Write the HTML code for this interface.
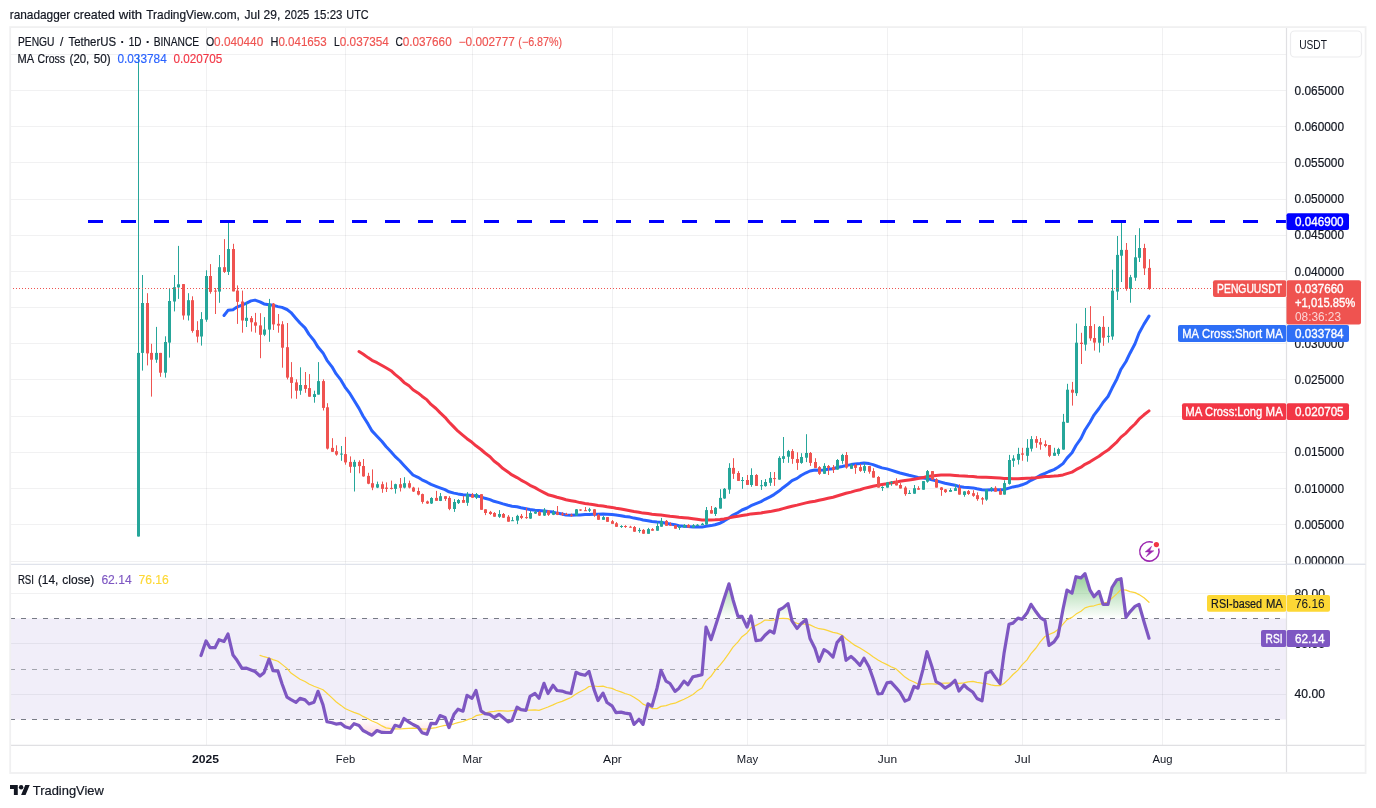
<!DOCTYPE html>
<html><head><meta charset="utf-8"><title>PENGUUSDT chart</title>
<style>html,body{margin:0;padding:0;background:#fff;overflow:hidden}svg{display:block;font-family:'Liberation Sans', sans-serif}</style></head>
<body><svg width="1376" height="808" viewBox="0 0 1376 808"><rect x="0" y="0" width="1376" height="808" fill="#ffffff"/><rect x="10.5" y="618.5" width="1276.0" height="101.0" fill="#f1eef9"/><line x1="206.5" y1="27.1" x2="206.5" y2="745.4" stroke="#2a2e39" stroke-opacity="0.065" stroke-width="1"/><line x1="345.5" y1="27.1" x2="345.5" y2="745.4" stroke="#2a2e39" stroke-opacity="0.065" stroke-width="1"/><line x1="472.5" y1="27.1" x2="472.5" y2="745.4" stroke="#2a2e39" stroke-opacity="0.065" stroke-width="1"/><line x1="612.5" y1="27.1" x2="612.5" y2="745.4" stroke="#2a2e39" stroke-opacity="0.065" stroke-width="1"/><line x1="747.5" y1="27.1" x2="747.5" y2="745.4" stroke="#2a2e39" stroke-opacity="0.065" stroke-width="1"/><line x1="887.5" y1="27.1" x2="887.5" y2="745.4" stroke="#2a2e39" stroke-opacity="0.065" stroke-width="1"/><line x1="1022.5" y1="27.1" x2="1022.5" y2="745.4" stroke="#2a2e39" stroke-opacity="0.065" stroke-width="1"/><line x1="1162.5" y1="27.1" x2="1162.5" y2="745.4" stroke="#2a2e39" stroke-opacity="0.065" stroke-width="1"/><line x1="10.5" y1="561.5" x2="1286.5" y2="561.5" stroke="#2a2e39" stroke-opacity="0.065" stroke-width="1"/><line x1="10.5" y1="524.5" x2="1286.5" y2="524.5" stroke="#2a2e39" stroke-opacity="0.065" stroke-width="1"/><line x1="10.5" y1="488.5" x2="1286.5" y2="488.5" stroke="#2a2e39" stroke-opacity="0.065" stroke-width="1"/><line x1="10.5" y1="452.5" x2="1286.5" y2="452.5" stroke="#2a2e39" stroke-opacity="0.065" stroke-width="1"/><line x1="10.5" y1="416.5" x2="1286.5" y2="416.5" stroke="#2a2e39" stroke-opacity="0.065" stroke-width="1"/><line x1="10.5" y1="379.5" x2="1286.5" y2="379.5" stroke="#2a2e39" stroke-opacity="0.065" stroke-width="1"/><line x1="10.5" y1="343.5" x2="1286.5" y2="343.5" stroke="#2a2e39" stroke-opacity="0.065" stroke-width="1"/><line x1="10.5" y1="307.5" x2="1286.5" y2="307.5" stroke="#2a2e39" stroke-opacity="0.065" stroke-width="1"/><line x1="10.5" y1="271.5" x2="1286.5" y2="271.5" stroke="#2a2e39" stroke-opacity="0.065" stroke-width="1"/><line x1="10.5" y1="235.5" x2="1286.5" y2="235.5" stroke="#2a2e39" stroke-opacity="0.065" stroke-width="1"/><line x1="10.5" y1="199.5" x2="1286.5" y2="199.5" stroke="#2a2e39" stroke-opacity="0.065" stroke-width="1"/><line x1="10.5" y1="162.5" x2="1286.5" y2="162.5" stroke="#2a2e39" stroke-opacity="0.065" stroke-width="1"/><line x1="10.5" y1="126.5" x2="1286.5" y2="126.5" stroke="#2a2e39" stroke-opacity="0.065" stroke-width="1"/><line x1="10.5" y1="90.5" x2="1286.5" y2="90.5" stroke="#2a2e39" stroke-opacity="0.065" stroke-width="1"/><line x1="10.5" y1="54.5" x2="1286.5" y2="54.5" stroke="#2a2e39" stroke-opacity="0.065" stroke-width="1"/><line x1="10.5" y1="593.5" x2="1286.5" y2="593.5" stroke="#2a2e39" stroke-opacity="0.065" stroke-width="1"/><line x1="10.5" y1="643.5" x2="1286.5" y2="643.5" stroke="#2a2e39" stroke-opacity="0.065" stroke-width="1"/><line x1="10.5" y1="694.5" x2="1286.5" y2="694.5" stroke="#2a2e39" stroke-opacity="0.065" stroke-width="1"/><line x1="10" y1="618.5" x2="1286.5" y2="618.5" stroke="#787b86" stroke-width="1" stroke-dasharray="5 6"/><line x1="10" y1="669.5" x2="1286.5" y2="669.5" stroke="#a3a5ae" stroke-width="1" stroke-dasharray="5 6"/><line x1="10" y1="719.5" x2="1286.5" y2="719.5" stroke="#787b86" stroke-width="1" stroke-dasharray="5 6"/><polyline points="224.0,315.5 228.0,310.3 233.0,309.7 237.0,307.1 242.0,305.2 246.0,303.4 251.0,300.9 255.0,300.1 260.0,301.8 264.0,303.9 269.0,304.8 273.0,305.3 278.0,306.6 282.0,307.4 287.0,309.5 291.0,312.6 296.0,318.4 300.0,323.0 305.0,327.9 309.0,334.4 314.0,340.5 318.0,347.1 323.0,352.9 327.0,360.3 332.0,366.8 336.0,373.7 341.0,380.2 345.0,387.1 350.0,393.7 354.0,400.3 359.0,408.4 363.0,416.0 368.0,423.9 372.0,430.9 377.0,436.2 382.0,441.5 386.0,446.5 391.0,451.7 395.0,456.4 400.0,461.0 404.0,465.4 409.0,470.8 413.0,475.0 418.0,477.3 422.0,479.8 427.0,482.2 431.0,484.4 436.0,486.3 440.0,487.8 445.0,489.7 449.0,491.8 454.0,493.1 458.0,493.9 463.0,494.7 467.0,495.1 472.0,495.6 476.0,495.8 481.0,496.9 485.0,498.3 490.0,499.6 494.0,501.3 499.0,502.6 503.0,503.9 508.0,505.3 512.0,506.2 517.0,506.8 521.0,507.8 526.0,508.7 530.0,509.5 535.0,510.2 539.0,510.5 544.0,510.9 548.0,511.6 553.0,512.1 557.0,513.1 562.0,514.0 566.0,515.0 571.0,515.3 576.0,515.1 580.0,514.9 585.0,514.6 589.0,514.4 594.0,514.3 598.0,514.2 603.0,514.0 607.0,514.3 612.0,514.6 616.0,515.0 621.0,515.7 625.0,516.5 630.0,517.1 634.0,518.1 639.0,518.9 643.0,520.0 648.0,520.7 652.0,521.5 657.0,522.1 661.0,522.3 666.0,523.2 670.0,523.9 675.0,524.8 679.0,525.7 684.0,526.2 688.0,526.5 693.0,526.9 697.0,527.1 702.0,527.1 706.0,526.3 711.0,525.6 715.0,524.7 720.0,523.2 724.0,521.1 729.0,518.0 733.0,515.0 738.0,512.6 742.0,510.0 747.0,508.0 751.0,505.7 756.0,503.7 761.0,501.6 765.0,499.3 770.0,496.9 774.0,494.6 779.0,491.1 783.0,487.7 788.0,484.0 792.0,480.7 797.0,478.4 801.0,475.5 806.0,472.8 810.0,471.0 815.0,470.0 819.0,470.3 824.0,469.9 828.0,469.3 833.0,468.7 837.0,467.5 842.0,466.5 846.0,465.6 851.0,464.6 855.0,463.9 860.0,463.5 864.0,462.9 869.0,463.6 873.0,464.6 878.0,466.5 882.0,467.9 887.0,468.9 891.0,470.1 896.0,471.7 900.0,473.0 905.0,474.3 909.0,475.3 914.0,476.4 918.0,477.5 923.0,478.0 927.0,478.6 932.0,479.8 936.0,480.8 941.0,482.1 945.0,483.3 950.0,484.2 955.0,485.3 959.0,486.5 964.0,487.2 968.0,487.5 973.0,487.9 977.0,488.8 982.0,489.7 986.0,489.9 991.0,489.8 995.0,489.7 1000.0,489.8 1004.0,489.5 1009.0,488.1 1013.0,486.9 1018.0,486.1 1022.0,484.8 1027.0,482.8 1031.0,480.3 1036.0,477.8 1040.0,475.5 1045.0,473.4 1049.0,471.5 1054.0,469.6 1058.0,467.3 1063.0,463.6 1067.0,458.1 1072.0,452.8 1076.0,445.5 1081.0,438.3 1085.0,430.0 1090.0,422.2 1094.0,415.1 1099.0,408.5 1103.0,402.5 1108.0,396.5 1112.0,388.3 1117.0,378.7 1121.0,369.2 1126.0,361.5 1130.0,353.2 1135.0,343.7 1139.0,333.3 1144.0,324.1 1149.0,316.1" fill="none" stroke="#2962ff" stroke-width="3.0" stroke-linejoin="round" stroke-linecap="round"/><polyline points="359.0,351.5 363.0,354.0 368.0,357.6 372.0,360.3 377.0,362.7 382.0,365.5 386.0,367.8 391.0,370.7 395.0,374.4 400.0,378.4 404.0,382.4 409.0,385.8 413.0,389.7 418.0,392.9 422.0,396.2 427.0,399.9 431.0,404.4 436.0,408.5 440.0,412.6 445.0,417.3 449.0,422.0 454.0,427.1 458.0,431.2 463.0,435.3 467.0,438.7 472.0,442.3 476.0,445.8 481.0,449.5 485.0,453.0 490.0,456.7 494.0,461.0 499.0,464.8 503.0,468.6 508.0,472.1 512.0,474.9 517.0,477.6 521.0,480.1 526.0,482.8 530.0,485.3 535.0,487.6 539.0,490.0 544.0,492.6 548.0,494.7 553.0,496.0 557.0,497.3 562.0,498.5 566.0,499.7 571.0,500.7 576.0,501.6 580.0,502.6 585.0,503.5 589.0,504.1 594.0,504.7 598.0,505.4 603.0,506.0 607.0,506.7 612.0,507.4 616.0,508.2 621.0,509.0 625.0,509.8 630.0,510.7 634.0,511.5 639.0,512.3 643.0,513.1 648.0,513.6 652.0,514.2 657.0,514.7 661.0,515.1 666.0,515.7 670.0,516.3 675.0,516.7 679.0,517.2 684.0,517.7 688.0,518.1 693.0,518.8 697.0,519.3 702.0,519.9 706.0,519.9 711.0,519.9 715.0,519.8 720.0,519.4 724.0,518.9 729.0,517.9 733.0,517.0 738.0,516.2 742.0,515.5 747.0,514.8 751.0,513.9 756.0,513.4 761.0,512.9 765.0,512.2 770.0,511.6 774.0,510.8 779.0,509.8 783.0,508.6 788.0,507.3 792.0,506.2 797.0,505.1 801.0,504.1 806.0,502.9 810.0,502.0 815.0,501.2 819.0,500.3 824.0,499.2 828.0,498.3 833.0,497.2 837.0,496.0 842.0,494.5 846.0,493.3 851.0,492.1 855.0,490.9 860.0,489.7 864.0,488.4 869.0,487.2 873.0,486.2 878.0,485.3 882.0,484.5 887.0,483.7 891.0,482.9 896.0,482.1 900.0,481.3 905.0,480.6 909.0,480.0 914.0,479.2 918.0,478.5 923.0,477.6 927.0,476.5 932.0,475.9 936.0,475.4 941.0,475.1 945.0,474.9 950.0,475.0 955.0,475.4 959.0,475.8 964.0,476.0 968.0,476.3 973.0,476.5 977.0,477.0 982.0,477.3 986.0,477.3 991.0,477.5 995.0,477.7 1000.0,478.1 1004.0,478.6 1009.0,478.6 1013.0,478.8 1018.0,478.7 1022.0,478.5 1027.0,478.3 1031.0,478.1 1036.0,477.7 1040.0,477.2 1045.0,476.6 1049.0,476.4 1054.0,476.1 1058.0,475.7 1063.0,474.9 1067.0,473.6 1072.0,472.1 1076.0,469.7 1081.0,467.2 1085.0,464.3 1090.0,461.8 1094.0,459.2 1099.0,456.2 1103.0,453.2 1108.0,450.1 1112.0,446.3 1117.0,441.8 1121.0,437.1 1126.0,433.1 1130.0,428.7 1135.0,424.0 1139.0,419.2 1144.0,414.8 1149.0,410.9" fill="none" stroke="#f23645" stroke-width="3.0" stroke-linejoin="round" stroke-linecap="round"/><g><rect x="138.0" y="54.5" width="1" height="482.0" fill="#26a69a"/><rect x="137.0" y="352.9" width="3" height="183.6" fill="#26a69a"/><rect x="142.0" y="275.0" width="1" height="95.6" fill="#26a69a"/><rect x="141.0" y="303.0" width="3" height="49.9" fill="#26a69a"/><rect x="147.0" y="293.2" width="1" height="72.2" fill="#ef5350"/><rect x="146.0" y="303.0" width="3" height="50.4" fill="#ef5350"/><rect x="151.0" y="343.8" width="1" height="52.8" fill="#ef5350"/><rect x="150.0" y="352.9" width="3" height="6.8" fill="#ef5350"/><rect x="156.0" y="326.9" width="1" height="35.9" fill="#26a69a"/><rect x="155.0" y="352.9" width="3" height="6.8" fill="#26a69a"/><rect x="160.0" y="352.9" width="1" height="23.9" fill="#ef5350"/><rect x="159.0" y="352.9" width="3" height="19.8" fill="#ef5350"/><rect x="165.0" y="336.3" width="1" height="41.3" fill="#26a69a"/><rect x="164.0" y="342.0" width="3" height="30.7" fill="#26a69a"/><rect x="169.0" y="288.0" width="1" height="69.6" fill="#26a69a"/><rect x="168.0" y="301.0" width="3" height="41.6" fill="#26a69a"/><rect x="174.0" y="275.0" width="1" height="36.4" fill="#26a69a"/><rect x="173.0" y="287.2" width="3" height="14.3" fill="#26a69a"/><rect x="178.0" y="245.9" width="1" height="53.0" fill="#26a69a"/><rect x="177.0" y="284.3" width="3" height="3.1" fill="#26a69a"/><rect x="183.0" y="284.1" width="1" height="35.6" fill="#ef5350"/><rect x="182.0" y="284.1" width="3" height="31.4" fill="#ef5350"/><rect x="188.0" y="293.2" width="1" height="27.3" fill="#26a69a"/><rect x="187.0" y="300.2" width="3" height="15.3" fill="#26a69a"/><rect x="192.0" y="296.3" width="1" height="36.4" fill="#ef5350"/><rect x="191.0" y="300.2" width="3" height="30.7" fill="#ef5350"/><rect x="197.0" y="321.2" width="1" height="21.3" fill="#ef5350"/><rect x="196.0" y="330.1" width="3" height="6.5" fill="#ef5350"/><rect x="201.0" y="312.1" width="1" height="33.5" fill="#26a69a"/><rect x="200.0" y="319.1" width="3" height="17.4" fill="#26a69a"/><rect x="206.0" y="270.3" width="1" height="51.5" fill="#26a69a"/><rect x="205.0" y="276.0" width="3" height="43.7" fill="#26a69a"/><rect x="210.0" y="264.1" width="1" height="29.6" fill="#ef5350"/><rect x="209.0" y="276.0" width="3" height="15.9" fill="#ef5350"/><rect x="215.0" y="288.0" width="1" height="26.0" fill="#ef5350"/><rect x="214.0" y="290.6" width="3" height="1.0" fill="#ef5350"/><rect x="219.0" y="255.0" width="1" height="47.8" fill="#26a69a"/><rect x="218.0" y="267.2" width="3" height="24.4" fill="#26a69a"/><rect x="224.0" y="239.1" width="1" height="33.8" fill="#ef5350"/><rect x="223.0" y="267.2" width="3" height="4.7" fill="#ef5350"/><rect x="228.0" y="221.7" width="1" height="53.3" fill="#26a69a"/><rect x="227.0" y="249.0" width="3" height="22.9" fill="#26a69a"/><rect x="233.0" y="243.8" width="1" height="47.6" fill="#ef5350"/><rect x="232.0" y="249.0" width="3" height="42.4" fill="#ef5350"/><rect x="237.0" y="285.4" width="1" height="38.5" fill="#ef5350"/><rect x="236.0" y="290.6" width="3" height="11.2" fill="#ef5350"/><rect x="242.0" y="290.6" width="1" height="42.1" fill="#ef5350"/><rect x="241.0" y="301.5" width="3" height="19.0" fill="#ef5350"/><rect x="246.0" y="302.3" width="1" height="24.7" fill="#26a69a"/><rect x="245.0" y="317.8" width="3" height="3.1" fill="#26a69a"/><rect x="251.0" y="316.0" width="1" height="15.6" fill="#ef5350"/><rect x="250.0" y="318.1" width="3" height="4.2" fill="#ef5350"/><rect x="255.0" y="312.9" width="1" height="19.8" fill="#ef5350"/><rect x="254.0" y="322.3" width="3" height="3.4" fill="#ef5350"/><rect x="260.0" y="313.2" width="1" height="45.0" fill="#ef5350"/><rect x="259.0" y="325.4" width="3" height="9.4" fill="#ef5350"/><rect x="264.0" y="317.1" width="1" height="19.0" fill="#26a69a"/><rect x="263.0" y="329.5" width="3" height="5.2" fill="#26a69a"/><rect x="269.0" y="298.9" width="1" height="42.9" fill="#26a69a"/><rect x="268.0" y="303.6" width="3" height="26.0" fill="#26a69a"/><rect x="273.0" y="303.0" width="1" height="27.0" fill="#ef5350"/><rect x="272.0" y="303.6" width="3" height="20.8" fill="#ef5350"/><rect x="278.0" y="314.0" width="1" height="18.7" fill="#ef5350"/><rect x="277.0" y="323.8" width="3" height="1.8" fill="#ef5350"/><rect x="282.0" y="321.2" width="1" height="46.5" fill="#ef5350"/><rect x="281.0" y="324.3" width="3" height="23.4" fill="#ef5350"/><rect x="287.0" y="323.0" width="1" height="56.4" fill="#ef5350"/><rect x="286.0" y="347.2" width="3" height="30.4" fill="#ef5350"/><rect x="291.0" y="362.1" width="1" height="36.4" fill="#ef5350"/><rect x="290.0" y="377.2" width="3" height="5.7" fill="#ef5350"/><rect x="296.0" y="379.3" width="1" height="19.5" fill="#ef5350"/><rect x="295.0" y="382.4" width="3" height="8.3" fill="#ef5350"/><rect x="300.0" y="367.3" width="1" height="27.5" fill="#26a69a"/><rect x="299.0" y="385.0" width="3" height="5.7" fill="#26a69a"/><rect x="305.0" y="372.0" width="1" height="20.8" fill="#ef5350"/><rect x="304.0" y="385.0" width="3" height="3.9" fill="#ef5350"/><rect x="309.0" y="374.1" width="1" height="22.6" fill="#ef5350"/><rect x="308.0" y="388.1" width="3" height="8.6" fill="#ef5350"/><rect x="314.0" y="390.7" width="1" height="12.0" fill="#26a69a"/><rect x="313.0" y="394.1" width="3" height="2.9" fill="#26a69a"/><rect x="318.0" y="362.1" width="1" height="32.5" fill="#26a69a"/><rect x="317.0" y="381.1" width="3" height="13.5" fill="#26a69a"/><rect x="323.0" y="379.3" width="1" height="31.2" fill="#ef5350"/><rect x="322.0" y="381.1" width="3" height="26.8" fill="#ef5350"/><rect x="327.0" y="403.2" width="1" height="46.3" fill="#ef5350"/><rect x="326.0" y="407.3" width="3" height="41.3" fill="#ef5350"/><rect x="332.0" y="438.2" width="1" height="13.8" fill="#ef5350"/><rect x="331.0" y="447.9" width="3" height="3.9" fill="#ef5350"/><rect x="336.0" y="445.3" width="1" height="10.4" fill="#ef5350"/><rect x="335.0" y="451.2" width="3" height="3.4" fill="#ef5350"/><rect x="341.0" y="446.0" width="1" height="14.8" fill="#26a69a"/><rect x="340.0" y="453.6" width="3" height="1.0" fill="#26a69a"/><rect x="345.0" y="436.9" width="1" height="27.8" fill="#ef5350"/><rect x="344.0" y="454.1" width="3" height="8.3" fill="#ef5350"/><rect x="350.0" y="456.4" width="1" height="16.4" fill="#ef5350"/><rect x="349.0" y="461.9" width="3" height="4.9" fill="#ef5350"/><rect x="354.0" y="459.8" width="1" height="31.7" fill="#26a69a"/><rect x="353.0" y="461.9" width="3" height="4.9" fill="#26a69a"/><rect x="359.0" y="460.3" width="1" height="13.0" fill="#ef5350"/><rect x="358.0" y="461.9" width="3" height="4.2" fill="#ef5350"/><rect x="363.0" y="459.0" width="1" height="17.7" fill="#ef5350"/><rect x="362.0" y="466.0" width="3" height="10.4" fill="#ef5350"/><rect x="368.0" y="472.8" width="1" height="11.4" fill="#ef5350"/><rect x="367.0" y="475.9" width="3" height="7.8" fill="#ef5350"/><rect x="372.0" y="469.4" width="1" height="20.8" fill="#ef5350"/><rect x="371.0" y="483.2" width="3" height="4.4" fill="#ef5350"/><rect x="377.0" y="481.6" width="1" height="6.5" fill="#26a69a"/><rect x="376.0" y="484.2" width="3" height="3.4" fill="#26a69a"/><rect x="382.0" y="481.6" width="1" height="11.2" fill="#ef5350"/><rect x="381.0" y="484.2" width="3" height="4.7" fill="#ef5350"/><rect x="386.0" y="482.4" width="1" height="9.6" fill="#ef5350"/><rect x="385.0" y="487.6" width="3" height="1.3" fill="#ef5350"/><rect x="391.0" y="480.6" width="1" height="8.8" fill="#ef5350"/><rect x="390.0" y="487.9" width="3" height="1.0" fill="#ef5350"/><rect x="395.0" y="483.7" width="1" height="9.9" fill="#26a69a"/><rect x="394.0" y="484.2" width="3" height="4.7" fill="#26a69a"/><rect x="400.0" y="478.0" width="1" height="13.5" fill="#ef5350"/><rect x="399.0" y="484.2" width="3" height="3.6" fill="#ef5350"/><rect x="404.0" y="477.2" width="1" height="11.2" fill="#26a69a"/><rect x="403.0" y="483.2" width="3" height="4.4" fill="#26a69a"/><rect x="409.0" y="480.6" width="1" height="7.8" fill="#ef5350"/><rect x="408.0" y="483.2" width="3" height="4.4" fill="#ef5350"/><rect x="413.0" y="486.8" width="1" height="5.2" fill="#ef5350"/><rect x="412.0" y="487.6" width="3" height="3.9" fill="#ef5350"/><rect x="418.0" y="487.6" width="1" height="7.8" fill="#ef5350"/><rect x="417.0" y="491.0" width="3" height="3.6" fill="#ef5350"/><rect x="422.0" y="493.6" width="1" height="10.1" fill="#ef5350"/><rect x="421.0" y="494.1" width="3" height="7.8" fill="#ef5350"/><rect x="427.0" y="500.6" width="1" height="3.4" fill="#ef5350"/><rect x="426.0" y="501.4" width="3" height="2.1" fill="#ef5350"/><rect x="431.0" y="497.2" width="1" height="6.8" fill="#26a69a"/><rect x="430.0" y="498.0" width="3" height="5.5" fill="#26a69a"/><rect x="436.0" y="490.9" width="1" height="9.9" fill="#ef5350"/><rect x="435.0" y="497.9" width="3" height="2.9" fill="#ef5350"/><rect x="440.0" y="493.0" width="1" height="8.1" fill="#26a69a"/><rect x="439.0" y="496.2" width="3" height="4.7" fill="#26a69a"/><rect x="445.0" y="496.2" width="1" height="4.7" fill="#ef5350"/><rect x="444.0" y="496.2" width="3" height="2.7" fill="#ef5350"/><rect x="449.0" y="496.2" width="1" height="14.0" fill="#ef5350"/><rect x="448.0" y="497.9" width="3" height="11.0" fill="#ef5350"/><rect x="454.0" y="499.1" width="1" height="12.8" fill="#26a69a"/><rect x="453.0" y="502.0" width="3" height="7.0" fill="#26a69a"/><rect x="458.0" y="499.1" width="1" height="4.9" fill="#26a69a"/><rect x="457.0" y="500.0" width="3" height="3.1" fill="#26a69a"/><rect x="463.0" y="495.8" width="1" height="7.0" fill="#ef5350"/><rect x="462.0" y="500.0" width="3" height="2.8" fill="#ef5350"/><rect x="467.0" y="492.1" width="1" height="13.7" fill="#26a69a"/><rect x="466.0" y="494.2" width="3" height="8.6" fill="#26a69a"/><rect x="472.0" y="493.0" width="1" height="4.9" fill="#ef5350"/><rect x="471.0" y="494.7" width="3" height="3.0" fill="#ef5350"/><rect x="476.0" y="493.0" width="1" height="6.0" fill="#26a69a"/><rect x="475.0" y="494.2" width="3" height="3.5" fill="#26a69a"/><rect x="481.0" y="494.2" width="1" height="15.6" fill="#ef5350"/><rect x="480.0" y="494.2" width="3" height="15.6" fill="#ef5350"/><rect x="485.0" y="509.3" width="1" height="5.8" fill="#ef5350"/><rect x="484.0" y="509.3" width="3" height="3.7" fill="#ef5350"/><rect x="490.0" y="510.9" width="1" height="4.0" fill="#ef5350"/><rect x="489.0" y="511.9" width="3" height="2.1" fill="#ef5350"/><rect x="494.0" y="512.1" width="1" height="4.7" fill="#ef5350"/><rect x="493.0" y="513.0" width="3" height="3.7" fill="#ef5350"/><rect x="499.0" y="510.1" width="1" height="7.8" fill="#26a69a"/><rect x="498.0" y="514.0" width="3" height="2.8" fill="#26a69a"/><rect x="503.0" y="513.0" width="1" height="4.9" fill="#ef5350"/><rect x="502.0" y="514.0" width="3" height="3.7" fill="#ef5350"/><rect x="508.0" y="515.1" width="1" height="6.6" fill="#ef5350"/><rect x="507.0" y="516.7" width="3" height="5.0" fill="#ef5350"/><rect x="512.0" y="517.1" width="1" height="3.8" fill="#26a69a"/><rect x="511.0" y="520.2" width="3" height="1.0" fill="#26a69a"/><rect x="517.0" y="514.8" width="1" height="9.3" fill="#26a69a"/><rect x="516.0" y="515.9" width="3" height="4.7" fill="#26a69a"/><rect x="521.0" y="514.0" width="1" height="5.1" fill="#ef5350"/><rect x="520.0" y="515.9" width="3" height="2.0" fill="#ef5350"/><rect x="526.0" y="507.8" width="1" height="11.0" fill="#ef5350"/><rect x="525.0" y="517.1" width="3" height="1.0" fill="#ef5350"/><rect x="530.0" y="510.9" width="1" height="7.9" fill="#26a69a"/><rect x="529.0" y="513.0" width="3" height="5.6" fill="#26a69a"/><rect x="535.0" y="510.1" width="1" height="3.8" fill="#26a69a"/><rect x="534.0" y="511.9" width="3" height="1.7" fill="#26a69a"/><rect x="539.0" y="510.9" width="1" height="5.0" fill="#ef5350"/><rect x="538.0" y="512.1" width="3" height="3.5" fill="#ef5350"/><rect x="544.0" y="508.1" width="1" height="7.8" fill="#26a69a"/><rect x="543.0" y="509.8" width="3" height="5.8" fill="#26a69a"/><rect x="548.0" y="510.1" width="1" height="5.8" fill="#ef5350"/><rect x="547.0" y="510.5" width="3" height="4.3" fill="#ef5350"/><rect x="553.0" y="510.1" width="1" height="5.0" fill="#26a69a"/><rect x="552.0" y="511.9" width="3" height="2.9" fill="#26a69a"/><rect x="557.0" y="506.0" width="1" height="9.1" fill="#ef5350"/><rect x="556.0" y="512.1" width="3" height="2.7" fill="#ef5350"/><rect x="562.0" y="512.1" width="1" height="3.8" fill="#ef5350"/><rect x="561.0" y="513.6" width="3" height="1.2" fill="#ef5350"/><rect x="566.0" y="512.8" width="1" height="2.3" fill="#ef5350"/><rect x="565.0" y="514.0" width="3" height="1.0" fill="#ef5350"/><rect x="571.0" y="513.6" width="1" height="3.1" fill="#ef5350"/><rect x="570.0" y="514.8" width="3" height="1.0" fill="#ef5350"/><rect x="576.0" y="509.0" width="1" height="7.0" fill="#26a69a"/><rect x="575.0" y="509.3" width="3" height="6.0" fill="#26a69a"/><rect x="580.0" y="509.3" width="1" height="1.6" fill="#ef5350"/><rect x="579.0" y="509.5" width="3" height="1.0" fill="#ef5350"/><rect x="585.0" y="507.0" width="1" height="4.0" fill="#ef5350"/><rect x="584.0" y="510.2" width="3" height="1.0" fill="#ef5350"/><rect x="589.0" y="507.8" width="1" height="4.3" fill="#26a69a"/><rect x="588.0" y="509.3" width="3" height="1.4" fill="#26a69a"/><rect x="594.0" y="509.1" width="1" height="7.7" fill="#ef5350"/><rect x="593.0" y="509.3" width="3" height="6.0" fill="#ef5350"/><rect x="598.0" y="514.0" width="1" height="5.8" fill="#ef5350"/><rect x="597.0" y="515.1" width="3" height="4.7" fill="#ef5350"/><rect x="603.0" y="515.9" width="1" height="3.8" fill="#26a69a"/><rect x="602.0" y="517.1" width="3" height="2.7" fill="#26a69a"/><rect x="607.0" y="517.1" width="1" height="4.7" fill="#ef5350"/><rect x="606.0" y="517.1" width="3" height="4.7" fill="#ef5350"/><rect x="612.0" y="520.0" width="1" height="3.7" fill="#ef5350"/><rect x="611.0" y="521.2" width="3" height="2.6" fill="#ef5350"/><rect x="616.0" y="522.1" width="1" height="4.7" fill="#ef5350"/><rect x="615.0" y="523.3" width="3" height="3.5" fill="#ef5350"/><rect x="621.0" y="525.2" width="1" height="2.7" fill="#26a69a"/><rect x="620.0" y="526.0" width="3" height="1.0" fill="#26a69a"/><rect x="625.0" y="525.2" width="1" height="2.7" fill="#ef5350"/><rect x="624.0" y="526.0" width="3" height="1.0" fill="#ef5350"/><rect x="630.0" y="525.8" width="1" height="1.7" fill="#ef5350"/><rect x="629.0" y="526.7" width="3" height="1.0" fill="#ef5350"/><rect x="634.0" y="526.0" width="1" height="5.8" fill="#ef5350"/><rect x="633.0" y="527.0" width="3" height="4.7" fill="#ef5350"/><rect x="639.0" y="527.9" width="1" height="4.9" fill="#26a69a"/><rect x="638.0" y="529.9" width="3" height="1.2" fill="#26a69a"/><rect x="643.0" y="529.1" width="1" height="4.7" fill="#ef5350"/><rect x="642.0" y="529.9" width="3" height="3.8" fill="#ef5350"/><rect x="648.0" y="527.9" width="1" height="5.8" fill="#26a69a"/><rect x="647.0" y="529.1" width="3" height="4.7" fill="#26a69a"/><rect x="652.0" y="528.1" width="1" height="2.6" fill="#ef5350"/><rect x="651.0" y="529.1" width="3" height="1.6" fill="#ef5350"/><rect x="657.0" y="522.1" width="1" height="8.6" fill="#26a69a"/><rect x="656.0" y="526.0" width="3" height="4.7" fill="#26a69a"/><rect x="661.0" y="517.9" width="1" height="8.8" fill="#26a69a"/><rect x="660.0" y="520.9" width="3" height="5.8" fill="#26a69a"/><rect x="666.0" y="520.0" width="1" height="5.8" fill="#ef5350"/><rect x="665.0" y="520.9" width="3" height="4.9" fill="#ef5350"/><rect x="670.0" y="522.3" width="1" height="3.3" fill="#ef5350"/><rect x="669.0" y="524.7" width="3" height="1.0" fill="#ef5350"/><rect x="675.0" y="525.2" width="1" height="3.5" fill="#ef5350"/><rect x="674.0" y="525.2" width="3" height="3.5" fill="#ef5350"/><rect x="679.0" y="525.8" width="1" height="4.1" fill="#26a69a"/><rect x="678.0" y="526.4" width="3" height="1.5" fill="#26a69a"/><rect x="684.0" y="524.1" width="1" height="3.5" fill="#26a69a"/><rect x="683.0" y="524.9" width="3" height="2.7" fill="#26a69a"/><rect x="688.0" y="524.1" width="1" height="3.5" fill="#ef5350"/><rect x="687.0" y="524.9" width="3" height="2.7" fill="#ef5350"/><rect x="693.0" y="524.1" width="1" height="3.5" fill="#26a69a"/><rect x="692.0" y="525.2" width="3" height="2.3" fill="#26a69a"/><rect x="697.0" y="524.1" width="1" height="1.7" fill="#26a69a"/><rect x="696.0" y="524.7" width="3" height="1.2" fill="#26a69a"/><rect x="702.0" y="522.9" width="1" height="2.3" fill="#26a69a"/><rect x="701.0" y="523.7" width="3" height="1.5" fill="#26a69a"/><rect x="706.0" y="507.0" width="1" height="17.7" fill="#26a69a"/><rect x="705.0" y="510.1" width="3" height="14.5" fill="#26a69a"/><rect x="711.0" y="506.0" width="1" height="7.6" fill="#ef5350"/><rect x="710.0" y="510.1" width="3" height="3.5" fill="#ef5350"/><rect x="715.0" y="507.0" width="1" height="9.0" fill="#26a69a"/><rect x="714.0" y="507.8" width="3" height="6.2" fill="#26a69a"/><rect x="720.0" y="489.2" width="1" height="19.4" fill="#26a69a"/><rect x="719.0" y="497.9" width="3" height="10.7" fill="#26a69a"/><rect x="724.0" y="488.0" width="1" height="10.8" fill="#26a69a"/><rect x="723.0" y="488.8" width="3" height="9.7" fill="#26a69a"/><rect x="729.0" y="463.2" width="1" height="30.6" fill="#26a69a"/><rect x="728.0" y="467.9" width="3" height="21.7" fill="#26a69a"/><rect x="733.0" y="458.2" width="1" height="20.7" fill="#ef5350"/><rect x="732.0" y="467.9" width="3" height="5.9" fill="#ef5350"/><rect x="738.0" y="471.1" width="1" height="9.8" fill="#ef5350"/><rect x="737.0" y="473.0" width="3" height="7.9" fill="#ef5350"/><rect x="742.0" y="477.0" width="1" height="11.8" fill="#26a69a"/><rect x="741.0" y="480.0" width="3" height="1.0" fill="#26a69a"/><rect x="747.0" y="475.0" width="1" height="10.0" fill="#ef5350"/><rect x="746.0" y="480.0" width="3" height="4.9" fill="#ef5350"/><rect x="751.0" y="468.3" width="1" height="18.5" fill="#26a69a"/><rect x="750.0" y="475.0" width="3" height="10.0" fill="#26a69a"/><rect x="756.0" y="474.1" width="1" height="11.8" fill="#ef5350"/><rect x="755.0" y="475.0" width="3" height="10.9" fill="#ef5350"/><rect x="761.0" y="480.0" width="1" height="9.9" fill="#26a69a"/><rect x="760.0" y="485.2" width="3" height="1.0" fill="#26a69a"/><rect x="765.0" y="479.1" width="1" height="7.6" fill="#26a69a"/><rect x="764.0" y="482.0" width="3" height="4.1" fill="#26a69a"/><rect x="770.0" y="472.0" width="1" height="13.9" fill="#26a69a"/><rect x="769.0" y="477.9" width="3" height="4.9" fill="#26a69a"/><rect x="774.0" y="472.0" width="1" height="13.9" fill="#ef5350"/><rect x="773.0" y="478.1" width="3" height="1.0" fill="#ef5350"/><rect x="779.0" y="456.2" width="1" height="23.5" fill="#26a69a"/><rect x="778.0" y="457.9" width="3" height="21.7" fill="#26a69a"/><rect x="783.0" y="437.0" width="1" height="25.9" fill="#26a69a"/><rect x="782.0" y="456.2" width="3" height="2.7" fill="#26a69a"/><rect x="788.0" y="449.9" width="1" height="12.9" fill="#26a69a"/><rect x="787.0" y="451.1" width="3" height="5.6" fill="#26a69a"/><rect x="792.0" y="449.1" width="1" height="14.7" fill="#ef5350"/><rect x="791.0" y="451.1" width="3" height="7.8" fill="#ef5350"/><rect x="797.0" y="452.3" width="1" height="17.6" fill="#ef5350"/><rect x="796.0" y="459.1" width="3" height="3.8" fill="#ef5350"/><rect x="801.0" y="453.2" width="1" height="10.6" fill="#26a69a"/><rect x="800.0" y="457.0" width="3" height="5.9" fill="#26a69a"/><rect x="806.0" y="434.2" width="1" height="27.9" fill="#26a69a"/><rect x="805.0" y="453.0" width="3" height="4.7" fill="#26a69a"/><rect x="810.0" y="452.0" width="1" height="13.9" fill="#ef5350"/><rect x="809.0" y="453.0" width="3" height="9.9" fill="#ef5350"/><rect x="815.0" y="458.2" width="1" height="9.8" fill="#ef5350"/><rect x="814.0" y="462.0" width="3" height="5.9" fill="#ef5350"/><rect x="819.0" y="466.1" width="1" height="8.8" fill="#ef5350"/><rect x="818.0" y="467.1" width="3" height="6.7" fill="#ef5350"/><rect x="824.0" y="463.2" width="1" height="10.6" fill="#26a69a"/><rect x="823.0" y="465.9" width="3" height="7.9" fill="#26a69a"/><rect x="828.0" y="465.0" width="1" height="10.0" fill="#ef5350"/><rect x="827.0" y="466.1" width="3" height="1.8" fill="#ef5350"/><rect x="833.0" y="465.0" width="1" height="8.0" fill="#ef5350"/><rect x="832.0" y="467.1" width="3" height="2.8" fill="#ef5350"/><rect x="837.0" y="459.1" width="1" height="10.6" fill="#26a69a"/><rect x="836.0" y="460.0" width="3" height="9.6" fill="#26a69a"/><rect x="842.0" y="453.8" width="1" height="10.0" fill="#26a69a"/><rect x="841.0" y="455.0" width="3" height="5.9" fill="#26a69a"/><rect x="846.0" y="452.0" width="1" height="16.7" fill="#ef5350"/><rect x="845.0" y="455.0" width="3" height="12.6" fill="#ef5350"/><rect x="851.0" y="463.2" width="1" height="5.5" fill="#26a69a"/><rect x="850.0" y="465.0" width="3" height="3.8" fill="#26a69a"/><rect x="855.0" y="464.0" width="1" height="9.8" fill="#ef5350"/><rect x="854.0" y="465.0" width="3" height="2.9" fill="#ef5350"/><rect x="860.0" y="464.0" width="1" height="7.8" fill="#ef5350"/><rect x="859.0" y="467.1" width="3" height="3.8" fill="#ef5350"/><rect x="864.0" y="463.2" width="1" height="9.8" fill="#26a69a"/><rect x="863.0" y="466.1" width="3" height="4.7" fill="#26a69a"/><rect x="869.0" y="466.1" width="1" height="7.6" fill="#ef5350"/><rect x="868.0" y="466.1" width="3" height="5.6" fill="#ef5350"/><rect x="873.0" y="468.2" width="1" height="9.4" fill="#ef5350"/><rect x="872.0" y="471.1" width="3" height="6.5" fill="#ef5350"/><rect x="878.0" y="476.1" width="1" height="11.5" fill="#ef5350"/><rect x="877.0" y="477.0" width="3" height="10.6" fill="#ef5350"/><rect x="882.0" y="486.2" width="1" height="4.7" fill="#26a69a"/><rect x="881.0" y="487.0" width="3" height="1.0" fill="#26a69a"/><rect x="887.0" y="482.0" width="1" height="5.6" fill="#26a69a"/><rect x="886.0" y="482.3" width="3" height="5.3" fill="#26a69a"/><rect x="891.0" y="481.1" width="1" height="4.7" fill="#26a69a"/><rect x="890.0" y="481.7" width="3" height="1.2" fill="#26a69a"/><rect x="896.0" y="478.2" width="1" height="7.3" fill="#ef5350"/><rect x="895.0" y="481.1" width="3" height="4.3" fill="#ef5350"/><rect x="900.0" y="483.1" width="1" height="5.4" fill="#ef5350"/><rect x="899.0" y="485.0" width="3" height="3.5" fill="#ef5350"/><rect x="905.0" y="486.2" width="1" height="9.6" fill="#ef5350"/><rect x="904.0" y="487.6" width="3" height="6.5" fill="#ef5350"/><rect x="909.0" y="490.2" width="1" height="3.5" fill="#26a69a"/><rect x="908.0" y="492.9" width="3" height="1.0" fill="#26a69a"/><rect x="914.0" y="485.0" width="1" height="8.7" fill="#26a69a"/><rect x="913.0" y="488.2" width="3" height="5.5" fill="#26a69a"/><rect x="918.0" y="486.2" width="1" height="3.5" fill="#ef5350"/><rect x="917.0" y="488.2" width="3" height="1.5" fill="#ef5350"/><rect x="923.0" y="481.1" width="1" height="8.6" fill="#26a69a"/><rect x="922.0" y="481.1" width="3" height="8.6" fill="#26a69a"/><rect x="927.0" y="470.0" width="1" height="12.7" fill="#26a69a"/><rect x="926.0" y="471.1" width="3" height="10.6" fill="#26a69a"/><rect x="932.0" y="471.1" width="1" height="8.5" fill="#ef5350"/><rect x="931.0" y="471.1" width="3" height="8.5" fill="#ef5350"/><rect x="936.0" y="478.2" width="1" height="9.4" fill="#ef5350"/><rect x="935.0" y="479.4" width="3" height="8.2" fill="#ef5350"/><rect x="941.0" y="487.0" width="1" height="8.8" fill="#ef5350"/><rect x="940.0" y="487.4" width="3" height="2.6" fill="#ef5350"/><rect x="945.0" y="489.0" width="1" height="3.9" fill="#ef5350"/><rect x="944.0" y="489.4" width="3" height="2.7" fill="#ef5350"/><rect x="950.0" y="488.2" width="1" height="3.5" fill="#26a69a"/><rect x="949.0" y="490.0" width="3" height="1.8" fill="#26a69a"/><rect x="955.0" y="484.1" width="1" height="6.8" fill="#26a69a"/><rect x="954.0" y="488.2" width="3" height="2.7" fill="#26a69a"/><rect x="959.0" y="484.3" width="1" height="10.3" fill="#ef5350"/><rect x="958.0" y="487.8" width="3" height="6.8" fill="#ef5350"/><rect x="964.0" y="491.1" width="1" height="5.6" fill="#26a69a"/><rect x="963.0" y="491.4" width="3" height="3.5" fill="#26a69a"/><rect x="968.0" y="490.0" width="1" height="4.9" fill="#ef5350"/><rect x="967.0" y="491.1" width="3" height="2.9" fill="#ef5350"/><rect x="973.0" y="490.2" width="1" height="6.6" fill="#ef5350"/><rect x="972.0" y="493.2" width="3" height="2.6" fill="#ef5350"/><rect x="977.0" y="492.3" width="1" height="8.5" fill="#ef5350"/><rect x="976.0" y="495.2" width="3" height="3.9" fill="#ef5350"/><rect x="982.0" y="497.0" width="1" height="7.6" fill="#ef5350"/><rect x="981.0" y="498.2" width="3" height="1.4" fill="#ef5350"/><rect x="986.0" y="489.4" width="1" height="11.4" fill="#26a69a"/><rect x="985.0" y="489.4" width="3" height="10.2" fill="#26a69a"/><rect x="991.0" y="487.0" width="1" height="4.7" fill="#26a69a"/><rect x="990.0" y="487.8" width="3" height="1.5" fill="#26a69a"/><rect x="995.0" y="486.2" width="1" height="5.5" fill="#ef5350"/><rect x="994.0" y="487.8" width="3" height="3.9" fill="#ef5350"/><rect x="1000.0" y="488.2" width="1" height="6.5" fill="#ef5350"/><rect x="999.0" y="490.9" width="3" height="3.8" fill="#ef5350"/><rect x="1004.0" y="480.3" width="1" height="14.3" fill="#26a69a"/><rect x="1003.0" y="483.1" width="3" height="11.5" fill="#26a69a"/><rect x="1009.0" y="454.9" width="1" height="29.7" fill="#26a69a"/><rect x="1008.0" y="460.0" width="3" height="23.9" fill="#26a69a"/><rect x="1013.0" y="455.2" width="1" height="11.7" fill="#26a69a"/><rect x="1012.0" y="458.4" width="3" height="2.4" fill="#26a69a"/><rect x="1018.0" y="447.8" width="1" height="16.7" fill="#26a69a"/><rect x="1017.0" y="453.9" width="3" height="5.9" fill="#26a69a"/><rect x="1022.0" y="447.8" width="1" height="13.0" fill="#ef5350"/><rect x="1021.0" y="453.4" width="3" height="1.3" fill="#ef5350"/><rect x="1027.0" y="439.1" width="1" height="22.6" fill="#26a69a"/><rect x="1026.0" y="447.8" width="3" height="8.0" fill="#26a69a"/><rect x="1031.0" y="436.1" width="1" height="15.4" fill="#26a69a"/><rect x="1030.0" y="439.1" width="3" height="9.6" fill="#26a69a"/><rect x="1036.0" y="436.1" width="1" height="11.7" fill="#ef5350"/><rect x="1035.0" y="439.1" width="3" height="3.7" fill="#ef5350"/><rect x="1040.0" y="438.0" width="1" height="11.7" fill="#ef5350"/><rect x="1039.0" y="442.2" width="3" height="2.4" fill="#ef5350"/><rect x="1045.0" y="440.4" width="1" height="6.9" fill="#ef5350"/><rect x="1044.0" y="444.1" width="3" height="1.9" fill="#ef5350"/><rect x="1049.0" y="445.0" width="1" height="12.1" fill="#ef5350"/><rect x="1048.0" y="445.0" width="3" height="10.8" fill="#ef5350"/><rect x="1054.0" y="447.8" width="1" height="8.0" fill="#26a69a"/><rect x="1053.0" y="452.8" width="3" height="3.0" fill="#26a69a"/><rect x="1058.0" y="447.8" width="1" height="8.0" fill="#26a69a"/><rect x="1057.0" y="449.1" width="3" height="4.8" fill="#26a69a"/><rect x="1063.0" y="413.9" width="1" height="35.8" fill="#26a69a"/><rect x="1062.0" y="421.8" width="3" height="27.8" fill="#26a69a"/><rect x="1067.0" y="383.8" width="1" height="39.0" fill="#26a69a"/><rect x="1066.0" y="389.7" width="3" height="33.0" fill="#26a69a"/><rect x="1072.0" y="381.9" width="1" height="23.7" fill="#ef5350"/><rect x="1071.0" y="389.7" width="3" height="3.0" fill="#ef5350"/><rect x="1076.0" y="323.5" width="1" height="72.4" fill="#26a69a"/><rect x="1075.0" y="342.7" width="3" height="50.5" fill="#26a69a"/><rect x="1081.0" y="332.8" width="1" height="31.2" fill="#ef5350"/><rect x="1080.0" y="342.7" width="3" height="1.3" fill="#ef5350"/><rect x="1085.0" y="308.0" width="1" height="42.7" fill="#26a69a"/><rect x="1084.0" y="326.0" width="3" height="18.6" fill="#26a69a"/><rect x="1090.0" y="306.1" width="1" height="34.7" fill="#ef5350"/><rect x="1089.0" y="326.0" width="3" height="12.4" fill="#ef5350"/><rect x="1094.0" y="324.1" width="1" height="26.5" fill="#ef5350"/><rect x="1093.0" y="338.0" width="3" height="4.6" fill="#ef5350"/><rect x="1099.0" y="326.0" width="1" height="26.5" fill="#26a69a"/><rect x="1098.0" y="326.9" width="3" height="15.8" fill="#26a69a"/><rect x="1103.0" y="316.1" width="1" height="29.7" fill="#ef5350"/><rect x="1102.0" y="326.9" width="3" height="10.8" fill="#ef5350"/><rect x="1108.0" y="326.9" width="1" height="15.8" fill="#26a69a"/><rect x="1107.0" y="335.8" width="3" height="1.1" fill="#26a69a"/><rect x="1112.0" y="269.7" width="1" height="70.1" fill="#26a69a"/><rect x="1111.0" y="290.7" width="3" height="45.8" fill="#26a69a"/><rect x="1117.0" y="236.0" width="1" height="64.0" fill="#26a69a"/><rect x="1116.0" y="254.9" width="3" height="36.7" fill="#26a69a"/><rect x="1121.0" y="221.5" width="1" height="60.5" fill="#26a69a"/><rect x="1120.0" y="249.9" width="3" height="5.8" fill="#26a69a"/><rect x="1126.0" y="243.0" width="1" height="47.7" fill="#ef5350"/><rect x="1125.0" y="249.9" width="3" height="39.0" fill="#ef5350"/><rect x="1130.0" y="274.9" width="1" height="27.8" fill="#26a69a"/><rect x="1129.0" y="277.2" width="3" height="11.7" fill="#26a69a"/><rect x="1135.0" y="235.0" width="1" height="45.8" fill="#26a69a"/><rect x="1134.0" y="257.3" width="3" height="20.4" fill="#26a69a"/><rect x="1139.0" y="228.2" width="1" height="33.8" fill="#26a69a"/><rect x="1138.0" y="248.0" width="3" height="9.8" fill="#26a69a"/><rect x="1144.0" y="243.8" width="1" height="31.2" fill="#ef5350"/><rect x="1143.0" y="248.0" width="3" height="20.4" fill="#ef5350"/><rect x="1149.0" y="259.2" width="1" height="30.6" fill="#ef5350"/><rect x="1148.0" y="267.9" width="3" height="21.0" fill="#ef5350"/></g><line x1="88" y1="221.5" x2="1286.0" y2="221.5" stroke="#0000ff" stroke-width="3" stroke-dasharray="15 18"/><line x1="10" y1="288.5" x2="1213" y2="288.5" stroke="#ef5350" stroke-width="1" stroke-dasharray="1 2"/><defs><linearGradient id="gob" x1="0" y1="0" x2="0" y2="1"><stop offset="0" stop-color="#4caf50" stop-opacity="0.55"/><stop offset="1" stop-color="#4caf50" stop-opacity="0"/></linearGradient><linearGradient id="gos" x1="0" y1="0" x2="0" y2="1"><stop offset="0" stop-color="#ff5252" stop-opacity="0"/><stop offset="1" stop-color="#ff5252" stop-opacity="0.55"/></linearGradient><clipPath id="cob"><rect x="0" y="564.4" width="1286.5" height="54.2"/></clipPath><clipPath id="cos"><rect x="0" y="719.4" width="1286.5" height="26.0"/></clipPath></defs><polygon points="201.0,618.6 201.0,655.6 206.0,640.9 210.0,647.6 215.0,647.7 219.0,639.7 224.0,641.4 228.0,634.0 233.0,655.1 237.0,660.3 242.0,668.4 246.0,668.1 251.0,669.9 255.0,671.5 260.0,676.0 264.0,672.7 269.0,659.1 273.0,670.6 278.0,671.2 282.0,683.8 287.0,697.2 291.0,699.6 296.0,702.4 300.0,698.4 305.0,699.9 309.0,704.0 314.0,702.2 318.0,691.3 323.0,704.9 327.0,721.8 332.0,722.8 336.0,724.1 341.0,723.4 345.0,726.7 350.0,728.3 354.0,723.7 359.0,725.6 363.0,730.5 368.0,733.2 372.0,735.2 377.0,730.5 382.0,732.4 386.0,732.5 391.0,732.5 395.0,725.3 400.0,726.7 404.0,718.5 409.0,722.1 413.0,724.5 418.0,727.0 422.0,732.7 427.0,734.3 431.0,723.4 436.0,723.6 440.0,715.6 445.0,717.4 449.0,727.6 454.0,714.2 458.0,709.2 463.0,711.2 467.0,695.3 472.0,698.3 476.0,690.5 481.0,710.9 485.0,713.6 490.0,714.4 494.0,717.6 499.0,714.3 503.0,717.6 508.0,721.9 512.0,720.5 517.0,707.2 521.0,709.6 526.0,710.3 530.0,696.4 535.0,693.5 539.0,698.2 544.0,683.3 548.0,693.5 553.0,685.3 557.0,690.5 562.0,691.1 566.0,692.5 571.0,693.5 576.0,672.3 580.0,674.1 585.0,675.3 589.0,671.4 594.0,689.4 598.0,700.5 603.0,693.1 607.0,702.5 612.0,705.8 616.0,712.6 621.0,712.1 625.0,713.1 630.0,713.8 634.0,724.4 639.0,719.3 643.0,724.4 648.0,703.8 652.0,706.1 657.0,688.2 661.0,670.3 666.0,681.1 670.0,683.5 675.0,691.4 679.0,688.2 684.0,681.1 688.0,684.7 693.0,676.7 697.0,675.9 702.0,674.7 706.0,627.1 711.0,639.7 715.0,627.5 720.0,611.7 724.0,598.9 729.0,583.8 733.0,599.7 738.0,616.4 742.0,616.4 747.0,627.1 751.0,615.9 756.0,640.6 761.0,640.0 765.0,635.2 770.0,630.8 774.0,633.0 779.0,610.0 783.0,607.9 788.0,603.6 792.0,620.8 797.0,628.5 801.0,623.8 806.0,619.7 810.0,638.5 815.0,648.5 819.0,661.4 824.0,649.6 828.0,652.0 833.0,657.1 837.0,642.6 842.0,636.7 846.0,660.3 851.0,656.4 855.0,660.0 860.0,665.3 864.0,658.2 869.0,667.0 873.0,678.2 878.0,693.8 882.0,693.5 887.0,682.9 891.0,682.1 896.0,687.6 900.0,692.3 905.0,701.1 909.0,699.4 914.0,686.4 918.0,688.2 923.0,669.4 927.0,651.7 932.0,667.0 936.0,681.7 941.0,684.3 945.0,688.2 950.0,685.2 955.0,680.3 959.0,691.1 964.0,685.0 968.0,688.8 973.0,692.3 977.0,698.5 982.0,700.9 986.0,673.3 991.0,671.1 995.0,677.0 1000.0,683.6 1004.0,653.6 1009.0,624.3 1013.0,623.1 1018.0,618.1 1022.0,619.3 1027.0,613.1 1031.0,604.3 1036.0,611.8 1040.0,617.3 1045.0,620.6 1049.0,645.5 1054.0,641.9 1058.0,636.0 1063.0,609.3 1067.0,590.1 1072.0,593.1 1076.0,576.7 1081.0,577.9 1085.0,573.7 1090.0,590.1 1094.0,596.7 1099.0,591.4 1103.0,604.3 1108.0,604.3 1112.0,587.5 1117.0,579.7 1121.0,578.7 1126.0,617.3 1130.0,611.8 1135.0,606.4 1139.0,604.3 1144.0,621.8 1149.0,638.2 1149.0,618.6" fill="#4caf50" fill-opacity="0.0" clip-path="url(#cob)"/><g clip-path="url(#cob)"><polygon points="201.0,618.6 201.0,655.6 206.0,640.9 210.0,647.6 215.0,647.7 219.0,639.7 224.0,641.4 228.0,634.0 233.0,655.1 237.0,660.3 242.0,668.4 246.0,668.1 251.0,669.9 255.0,671.5 260.0,676.0 264.0,672.7 269.0,659.1 273.0,670.6 278.0,671.2 282.0,683.8 287.0,697.2 291.0,699.6 296.0,702.4 300.0,698.4 305.0,699.9 309.0,704.0 314.0,702.2 318.0,691.3 323.0,704.9 327.0,721.8 332.0,722.8 336.0,724.1 341.0,723.4 345.0,726.7 350.0,728.3 354.0,723.7 359.0,725.6 363.0,730.5 368.0,733.2 372.0,735.2 377.0,730.5 382.0,732.4 386.0,732.5 391.0,732.5 395.0,725.3 400.0,726.7 404.0,718.5 409.0,722.1 413.0,724.5 418.0,727.0 422.0,732.7 427.0,734.3 431.0,723.4 436.0,723.6 440.0,715.6 445.0,717.4 449.0,727.6 454.0,714.2 458.0,709.2 463.0,711.2 467.0,695.3 472.0,698.3 476.0,690.5 481.0,710.9 485.0,713.6 490.0,714.4 494.0,717.6 499.0,714.3 503.0,717.6 508.0,721.9 512.0,720.5 517.0,707.2 521.0,709.6 526.0,710.3 530.0,696.4 535.0,693.5 539.0,698.2 544.0,683.3 548.0,693.5 553.0,685.3 557.0,690.5 562.0,691.1 566.0,692.5 571.0,693.5 576.0,672.3 580.0,674.1 585.0,675.3 589.0,671.4 594.0,689.4 598.0,700.5 603.0,693.1 607.0,702.5 612.0,705.8 616.0,712.6 621.0,712.1 625.0,713.1 630.0,713.8 634.0,724.4 639.0,719.3 643.0,724.4 648.0,703.8 652.0,706.1 657.0,688.2 661.0,670.3 666.0,681.1 670.0,683.5 675.0,691.4 679.0,688.2 684.0,681.1 688.0,684.7 693.0,676.7 697.0,675.9 702.0,674.7 706.0,627.1 711.0,639.7 715.0,627.5 720.0,611.7 724.0,598.9 729.0,583.8 733.0,599.7 738.0,616.4 742.0,616.4 747.0,627.1 751.0,615.9 756.0,640.6 761.0,640.0 765.0,635.2 770.0,630.8 774.0,633.0 779.0,610.0 783.0,607.9 788.0,603.6 792.0,620.8 797.0,628.5 801.0,623.8 806.0,619.7 810.0,638.5 815.0,648.5 819.0,661.4 824.0,649.6 828.0,652.0 833.0,657.1 837.0,642.6 842.0,636.7 846.0,660.3 851.0,656.4 855.0,660.0 860.0,665.3 864.0,658.2 869.0,667.0 873.0,678.2 878.0,693.8 882.0,693.5 887.0,682.9 891.0,682.1 896.0,687.6 900.0,692.3 905.0,701.1 909.0,699.4 914.0,686.4 918.0,688.2 923.0,669.4 927.0,651.7 932.0,667.0 936.0,681.7 941.0,684.3 945.0,688.2 950.0,685.2 955.0,680.3 959.0,691.1 964.0,685.0 968.0,688.8 973.0,692.3 977.0,698.5 982.0,700.9 986.0,673.3 991.0,671.1 995.0,677.0 1000.0,683.6 1004.0,653.6 1009.0,624.3 1013.0,623.1 1018.0,618.1 1022.0,619.3 1027.0,613.1 1031.0,604.3 1036.0,611.8 1040.0,617.3 1045.0,620.6 1049.0,645.5 1054.0,641.9 1058.0,636.0 1063.0,609.3 1067.0,590.1 1072.0,593.1 1076.0,576.7 1081.0,577.9 1085.0,573.7 1090.0,590.1 1094.0,596.7 1099.0,591.4 1103.0,604.3 1108.0,604.3 1112.0,587.5 1117.0,579.7 1121.0,578.7 1126.0,617.3 1130.0,611.8 1135.0,606.4 1139.0,604.3 1144.0,621.8 1149.0,638.2 1149.0,618.6" fill="url(#gobu)"/></g><g clip-path="url(#cos)"><polygon points="201.0,719.4 201.0,655.6 206.0,640.9 210.0,647.6 215.0,647.7 219.0,639.7 224.0,641.4 228.0,634.0 233.0,655.1 237.0,660.3 242.0,668.4 246.0,668.1 251.0,669.9 255.0,671.5 260.0,676.0 264.0,672.7 269.0,659.1 273.0,670.6 278.0,671.2 282.0,683.8 287.0,697.2 291.0,699.6 296.0,702.4 300.0,698.4 305.0,699.9 309.0,704.0 314.0,702.2 318.0,691.3 323.0,704.9 327.0,721.8 332.0,722.8 336.0,724.1 341.0,723.4 345.0,726.7 350.0,728.3 354.0,723.7 359.0,725.6 363.0,730.5 368.0,733.2 372.0,735.2 377.0,730.5 382.0,732.4 386.0,732.5 391.0,732.5 395.0,725.3 400.0,726.7 404.0,718.5 409.0,722.1 413.0,724.5 418.0,727.0 422.0,732.7 427.0,734.3 431.0,723.4 436.0,723.6 440.0,715.6 445.0,717.4 449.0,727.6 454.0,714.2 458.0,709.2 463.0,711.2 467.0,695.3 472.0,698.3 476.0,690.5 481.0,710.9 485.0,713.6 490.0,714.4 494.0,717.6 499.0,714.3 503.0,717.6 508.0,721.9 512.0,720.5 517.0,707.2 521.0,709.6 526.0,710.3 530.0,696.4 535.0,693.5 539.0,698.2 544.0,683.3 548.0,693.5 553.0,685.3 557.0,690.5 562.0,691.1 566.0,692.5 571.0,693.5 576.0,672.3 580.0,674.1 585.0,675.3 589.0,671.4 594.0,689.4 598.0,700.5 603.0,693.1 607.0,702.5 612.0,705.8 616.0,712.6 621.0,712.1 625.0,713.1 630.0,713.8 634.0,724.4 639.0,719.3 643.0,724.4 648.0,703.8 652.0,706.1 657.0,688.2 661.0,670.3 666.0,681.1 670.0,683.5 675.0,691.4 679.0,688.2 684.0,681.1 688.0,684.7 693.0,676.7 697.0,675.9 702.0,674.7 706.0,627.1 711.0,639.7 715.0,627.5 720.0,611.7 724.0,598.9 729.0,583.8 733.0,599.7 738.0,616.4 742.0,616.4 747.0,627.1 751.0,615.9 756.0,640.6 761.0,640.0 765.0,635.2 770.0,630.8 774.0,633.0 779.0,610.0 783.0,607.9 788.0,603.6 792.0,620.8 797.0,628.5 801.0,623.8 806.0,619.7 810.0,638.5 815.0,648.5 819.0,661.4 824.0,649.6 828.0,652.0 833.0,657.1 837.0,642.6 842.0,636.7 846.0,660.3 851.0,656.4 855.0,660.0 860.0,665.3 864.0,658.2 869.0,667.0 873.0,678.2 878.0,693.8 882.0,693.5 887.0,682.9 891.0,682.1 896.0,687.6 900.0,692.3 905.0,701.1 909.0,699.4 914.0,686.4 918.0,688.2 923.0,669.4 927.0,651.7 932.0,667.0 936.0,681.7 941.0,684.3 945.0,688.2 950.0,685.2 955.0,680.3 959.0,691.1 964.0,685.0 968.0,688.8 973.0,692.3 977.0,698.5 982.0,700.9 986.0,673.3 991.0,671.1 995.0,677.0 1000.0,683.6 1004.0,653.6 1009.0,624.3 1013.0,623.1 1018.0,618.1 1022.0,619.3 1027.0,613.1 1031.0,604.3 1036.0,611.8 1040.0,617.3 1045.0,620.6 1049.0,645.5 1054.0,641.9 1058.0,636.0 1063.0,609.3 1067.0,590.1 1072.0,593.1 1076.0,576.7 1081.0,577.9 1085.0,573.7 1090.0,590.1 1094.0,596.7 1099.0,591.4 1103.0,604.3 1108.0,604.3 1112.0,587.5 1117.0,579.7 1121.0,578.7 1126.0,617.3 1130.0,611.8 1135.0,606.4 1139.0,604.3 1144.0,621.8 1149.0,638.2 1149.0,719.4" fill="url(#gosu)"/></g><defs><linearGradient id="gobu" gradientUnits="userSpaceOnUse" x1="0" y1="543.0" x2="0" y2="618.6"><stop offset="0" stop-color="#4caf50" stop-opacity="1"/><stop offset="1" stop-color="#4caf50" stop-opacity="0"/></linearGradient><linearGradient id="gosu" gradientUnits="userSpaceOnUse" x1="0" y1="719.4" x2="0" y2="795.0"><stop offset="0" stop-color="#ff5252" stop-opacity="0"/><stop offset="1" stop-color="#ff5252" stop-opacity="1"/></linearGradient></defs><polyline points="260.0,655.4 264.0,656.7 269.0,658.0 273.0,659.6 278.0,661.3 282.0,664.4 287.0,668.4 291.0,673.1 296.0,676.5 300.0,679.2 305.0,681.5 309.0,684.0 314.0,686.3 318.0,687.7 323.0,689.8 327.0,693.3 332.0,697.9 336.0,701.7 341.0,705.4 345.0,708.5 350.0,710.7 354.0,712.4 359.0,714.1 363.0,716.4 368.0,718.8 372.0,721.0 377.0,723.0 382.0,725.9 386.0,727.9 391.0,728.7 395.0,728.8 400.0,729.0 404.0,728.7 409.0,728.4 413.0,728.1 418.0,728.3 422.0,728.8 427.0,729.1 431.0,728.4 436.0,727.6 440.0,726.5 445.0,725.4 449.0,725.1 454.0,723.8 458.0,722.6 463.0,721.5 467.0,719.9 472.0,718.2 476.0,715.7 481.0,714.6 485.0,713.2 490.0,711.8 494.0,711.4 499.0,710.7 503.0,710.9 508.0,711.2 512.0,710.7 517.0,710.2 521.0,710.2 526.0,710.1 530.0,710.2 535.0,709.9 539.0,710.4 544.0,708.5 548.0,707.0 553.0,704.9 557.0,703.0 562.0,701.4 566.0,699.6 571.0,697.5 576.0,694.1 580.0,691.7 585.0,689.3 589.0,686.5 594.0,686.0 598.0,686.5 603.0,686.1 607.0,687.5 612.0,688.4 616.0,690.3 621.0,691.9 625.0,693.5 630.0,695.0 634.0,697.2 639.0,700.5 643.0,704.1 648.0,706.2 652.0,708.6 657.0,708.6 661.0,706.4 666.0,705.6 670.0,704.2 675.0,703.2 679.0,701.4 684.0,699.2 688.0,697.2 693.0,694.5 697.0,691.1 702.0,687.9 706.0,680.9 711.0,676.3 715.0,670.7 720.0,665.2 724.0,660.1 729.0,653.2 733.0,647.2 738.0,641.9 742.0,636.7 747.0,632.9 751.0,627.9 756.0,625.4 761.0,622.8 765.0,620.0 770.0,620.3 774.0,619.8 779.0,618.5 783.0,618.3 788.0,618.6 792.0,621.2 797.0,623.3 801.0,623.8 806.0,624.1 810.0,624.9 815.0,627.2 819.0,628.7 824.0,629.4 828.0,630.6 833.0,632.4 837.0,633.1 842.0,635.0 846.0,638.8 851.0,642.6 855.0,645.4 860.0,648.0 864.0,650.4 869.0,653.8 873.0,656.7 878.0,659.9 882.0,662.2 887.0,664.6 891.0,666.7 896.0,668.9 900.0,672.5 905.0,677.1 909.0,679.8 914.0,682.0 918.0,684.0 923.0,684.3 927.0,683.8 932.0,683.8 936.0,684.1 941.0,683.4 945.0,683.0 950.0,683.2 955.0,683.1 959.0,683.3 964.0,682.8 968.0,681.9 973.0,681.4 977.0,682.3 982.0,683.2 986.0,683.5 991.0,684.8 995.0,685.6 1000.0,685.7 1004.0,683.5 1009.0,678.9 1013.0,674.5 1018.0,670.1 1022.0,664.9 1027.0,659.8 1031.0,653.7 1036.0,648.0 1040.0,642.2 1045.0,636.5 1049.0,634.5 1054.0,632.4 1058.0,629.5 1063.0,624.2 1067.0,619.6 1072.0,617.4 1076.0,614.1 1081.0,611.2 1085.0,607.9 1090.0,606.3 1094.0,605.8 1099.0,604.3 1103.0,603.4 1108.0,602.2 1112.0,598.1 1117.0,593.6 1121.0,589.5 1126.0,590.1 1130.0,591.6 1135.0,592.6 1139.0,594.6 1144.0,597.7 1149.0,602.3" fill="none" stroke="#fbd43a" stroke-width="1.2" stroke-linejoin="round" stroke-linecap="round"/><polyline points="201.0,655.6 206.0,640.9 210.0,647.6 215.0,647.7 219.0,639.7 224.0,641.4 228.0,634.0 233.0,655.1 237.0,660.3 242.0,668.4 246.0,668.1 251.0,669.9 255.0,671.5 260.0,676.0 264.0,672.7 269.0,659.1 273.0,670.6 278.0,671.2 282.0,683.8 287.0,697.2 291.0,699.6 296.0,702.4 300.0,698.4 305.0,699.9 309.0,704.0 314.0,702.2 318.0,691.3 323.0,704.9 327.0,721.8 332.0,722.8 336.0,724.1 341.0,723.4 345.0,726.7 350.0,728.3 354.0,723.7 359.0,725.6 363.0,730.5 368.0,733.2 372.0,735.2 377.0,730.5 382.0,732.4 386.0,732.5 391.0,732.5 395.0,725.3 400.0,726.7 404.0,718.5 409.0,722.1 413.0,724.5 418.0,727.0 422.0,732.7 427.0,734.3 431.0,723.4 436.0,723.6 440.0,715.6 445.0,717.4 449.0,727.6 454.0,714.2 458.0,709.2 463.0,711.2 467.0,695.3 472.0,698.3 476.0,690.5 481.0,710.9 485.0,713.6 490.0,714.4 494.0,717.6 499.0,714.3 503.0,717.6 508.0,721.9 512.0,720.5 517.0,707.2 521.0,709.6 526.0,710.3 530.0,696.4 535.0,693.5 539.0,698.2 544.0,683.3 548.0,693.5 553.0,685.3 557.0,690.5 562.0,691.1 566.0,692.5 571.0,693.5 576.0,672.3 580.0,674.1 585.0,675.3 589.0,671.4 594.0,689.4 598.0,700.5 603.0,693.1 607.0,702.5 612.0,705.8 616.0,712.6 621.0,712.1 625.0,713.1 630.0,713.8 634.0,724.4 639.0,719.3 643.0,724.4 648.0,703.8 652.0,706.1 657.0,688.2 661.0,670.3 666.0,681.1 670.0,683.5 675.0,691.4 679.0,688.2 684.0,681.1 688.0,684.7 693.0,676.7 697.0,675.9 702.0,674.7 706.0,627.1 711.0,639.7 715.0,627.5 720.0,611.7 724.0,598.9 729.0,583.8 733.0,599.7 738.0,616.4 742.0,616.4 747.0,627.1 751.0,615.9 756.0,640.6 761.0,640.0 765.0,635.2 770.0,630.8 774.0,633.0 779.0,610.0 783.0,607.9 788.0,603.6 792.0,620.8 797.0,628.5 801.0,623.8 806.0,619.7 810.0,638.5 815.0,648.5 819.0,661.4 824.0,649.6 828.0,652.0 833.0,657.1 837.0,642.6 842.0,636.7 846.0,660.3 851.0,656.4 855.0,660.0 860.0,665.3 864.0,658.2 869.0,667.0 873.0,678.2 878.0,693.8 882.0,693.5 887.0,682.9 891.0,682.1 896.0,687.6 900.0,692.3 905.0,701.1 909.0,699.4 914.0,686.4 918.0,688.2 923.0,669.4 927.0,651.7 932.0,667.0 936.0,681.7 941.0,684.3 945.0,688.2 950.0,685.2 955.0,680.3 959.0,691.1 964.0,685.0 968.0,688.8 973.0,692.3 977.0,698.5 982.0,700.9 986.0,673.3 991.0,671.1 995.0,677.0 1000.0,683.6 1004.0,653.6 1009.0,624.3 1013.0,623.1 1018.0,618.1 1022.0,619.3 1027.0,613.1 1031.0,604.3 1036.0,611.8 1040.0,617.3 1045.0,620.6 1049.0,645.5 1054.0,641.9 1058.0,636.0 1063.0,609.3 1067.0,590.1 1072.0,593.1 1076.0,576.7 1081.0,577.9 1085.0,573.7 1090.0,590.1 1094.0,596.7 1099.0,591.4 1103.0,604.3 1108.0,604.3 1112.0,587.5 1117.0,579.7 1121.0,578.7 1126.0,617.3 1130.0,611.8 1135.0,606.4 1139.0,604.3 1144.0,621.8 1149.0,638.2" fill="none" stroke="#7e57c2" stroke-width="3.2" stroke-linejoin="round" stroke-linecap="round" stroke-linejoin="miter"/><rect x="1286.5" y="27.1" width="79.09999999999991" height="745.9" fill="#ffffff"/><rect x="10" y="745.4" width="1355.6" height="27.600000000000023" fill="#ffffff"/><line x1="10" y1="564.4" x2="1365.6" y2="564.4" stroke="#e0e3eb" stroke-width="1.2"/><line x1="1286.5" y1="27.1" x2="1286.5" y2="773" stroke="#e0e0e3" stroke-width="1.2"/><line x1="10" y1="745.4" x2="1365.6" y2="745.4" stroke="#e0e0e3" stroke-width="1.2"/><rect x="10.2" y="27.1" width="1355.3999999999999" height="745.9" fill="none" stroke="#f0f0f1" stroke-width="1.8"/><text x="1294.6" y="565.0" font-size="12.3" fill="#131722" font-weight="normal" text-anchor="start" textLength="49.4" lengthAdjust="spacingAndGlyphs" stroke="#131722" stroke-width="0.2">0.000000</text><text x="1294.6" y="529.0" font-size="12.3" fill="#131722" font-weight="normal" text-anchor="start" textLength="49.4" lengthAdjust="spacingAndGlyphs" stroke="#131722" stroke-width="0.2">0.005000</text><text x="1294.6" y="493.0" font-size="12.3" fill="#131722" font-weight="normal" text-anchor="start" textLength="49.4" lengthAdjust="spacingAndGlyphs" stroke="#131722" stroke-width="0.2">0.010000</text><text x="1294.6" y="456.0" font-size="12.3" fill="#131722" font-weight="normal" text-anchor="start" textLength="49.4" lengthAdjust="spacingAndGlyphs" stroke="#131722" stroke-width="0.2">0.015000</text><text x="1294.6" y="420.0" font-size="12.3" fill="#131722" font-weight="normal" text-anchor="start" textLength="49.4" lengthAdjust="spacingAndGlyphs" stroke="#131722" stroke-width="0.2">0.020000</text><text x="1294.6" y="384.0" font-size="12.3" fill="#131722" font-weight="normal" text-anchor="start" textLength="49.4" lengthAdjust="spacingAndGlyphs" stroke="#131722" stroke-width="0.2">0.025000</text><text x="1294.6" y="348.0" font-size="12.3" fill="#131722" font-weight="normal" text-anchor="start" textLength="49.4" lengthAdjust="spacingAndGlyphs" stroke="#131722" stroke-width="0.2">0.030000</text><text x="1294.6" y="312.0" font-size="12.3" fill="#131722" font-weight="normal" text-anchor="start" textLength="49.4" lengthAdjust="spacingAndGlyphs" stroke="#131722" stroke-width="0.2">0.035000</text><text x="1294.6" y="276.0" font-size="12.3" fill="#131722" font-weight="normal" text-anchor="start" textLength="49.4" lengthAdjust="spacingAndGlyphs" stroke="#131722" stroke-width="0.2">0.040000</text><text x="1294.6" y="239.0" font-size="12.3" fill="#131722" font-weight="normal" text-anchor="start" textLength="49.4" lengthAdjust="spacingAndGlyphs" stroke="#131722" stroke-width="0.2">0.045000</text><text x="1294.6" y="203.0" font-size="12.3" fill="#131722" font-weight="normal" text-anchor="start" textLength="49.4" lengthAdjust="spacingAndGlyphs" stroke="#131722" stroke-width="0.2">0.050000</text><text x="1294.6" y="167.0" font-size="12.3" fill="#131722" font-weight="normal" text-anchor="start" textLength="49.4" lengthAdjust="spacingAndGlyphs" stroke="#131722" stroke-width="0.2">0.055000</text><text x="1294.6" y="131.0" font-size="12.3" fill="#131722" font-weight="normal" text-anchor="start" textLength="49.4" lengthAdjust="spacingAndGlyphs" stroke="#131722" stroke-width="0.2">0.060000</text><text x="1294.6" y="95.0" font-size="12.3" fill="#131722" font-weight="normal" text-anchor="start" textLength="49.4" lengthAdjust="spacingAndGlyphs" stroke="#131722" stroke-width="0.2">0.065000</text><text x="1294.6" y="598.0" font-size="12.3" fill="#131722" font-weight="normal" text-anchor="start" textLength="30.3" lengthAdjust="spacingAndGlyphs" stroke="#131722" stroke-width="0.2">80.00</text><text x="1294.6" y="698.0" font-size="12.3" fill="#131722" font-weight="normal" text-anchor="start" textLength="30.3" lengthAdjust="spacingAndGlyphs" stroke="#131722" stroke-width="0.2">40.00</text><text x="1294.6" y="648.0" font-size="12.3" fill="#131722" font-weight="normal" text-anchor="start" textLength="30.3" lengthAdjust="spacingAndGlyphs" stroke="#131722" stroke-width="0.2">60.00</text><rect x="1287.1" y="564.4" width="77.6999999999999" height="4" fill="#ffffff"/><line x1="1286.5" y1="564.4" x2="1365.6" y2="564.4" stroke="#e0e3eb" stroke-width="1.2"/><rect x="1286.5" y="213.2" width="62.5" height="16.8" rx="2" fill="#0000ff"/><text x="1295.0" y="225.8" font-size="12.3" fill="#ffffff" font-weight="normal" text-anchor="start" textLength="48.6" lengthAdjust="spacingAndGlyphs" stroke="#ffffff" stroke-width="0.35">0.046900</text><rect x="1213.0" y="280.2" width="73.5" height="16.8" rx="2" fill="#ef5350"/><text x="1217.1" y="292.8" font-size="12.3" fill="#ffffff" font-weight="normal" text-anchor="start" textLength="64.9" lengthAdjust="spacingAndGlyphs" stroke="#ffffff" stroke-width="0.35">PENGUUSDT</text><rect x="1286.5" y="280.2" width="74.5" height="44.4" rx="2" fill="#ef5350"/><text x="1295.0" y="292.9" font-size="12.3" fill="#ffffff" font-weight="normal" text-anchor="start" textLength="48.6" lengthAdjust="spacingAndGlyphs" stroke="#ffffff" stroke-width="0.35">0.037660</text><text x="1295.0" y="307.1" font-size="12.3" fill="#ffffff" font-weight="normal" text-anchor="start" textLength="60.3" lengthAdjust="spacingAndGlyphs" stroke="#ffffff" stroke-width="0.35">+1,015.85%</text><text x="1295.0" y="320.9" font-size="12.3" fill="#ffffff" font-weight="normal" text-anchor="start" textLength="46.0" lengthAdjust="spacingAndGlyphs" fill-opacity="0.75">08:36:23</text><rect x="1178.0" y="325.1" width="108.5" height="16.8" rx="2" fill="#2e6ff6"/><text x="1182.2" y="337.8" font-size="12.3" fill="#ffffff" font-weight="normal" text-anchor="start" textLength="16.7" lengthAdjust="spacingAndGlyphs" stroke="#ffffff" stroke-width="0.35">MA</text><text x="1202.1" y="337.8" font-size="12.3" fill="#ffffff" font-weight="normal" text-anchor="start" textLength="60.0" lengthAdjust="spacingAndGlyphs" stroke="#ffffff" stroke-width="0.35">Cross:Short</text><text x="1265.6" y="337.8" font-size="12.3" fill="#ffffff" font-weight="normal" text-anchor="start" textLength="17.2" lengthAdjust="spacingAndGlyphs" stroke="#ffffff" stroke-width="0.35">MA</text><rect x="1286.5" y="325.1" width="62.5" height="16.8" rx="2" fill="#2e6ff6"/><text x="1295.0" y="337.8" font-size="12.3" fill="#ffffff" font-weight="normal" text-anchor="start" textLength="48.6" lengthAdjust="spacingAndGlyphs" stroke="#ffffff" stroke-width="0.35">0.033784</text><rect x="1182.0" y="403.2" width="104.5" height="16.8" rx="2" fill="#f23645"/><text x="1185.2" y="415.9" font-size="12.3" fill="#ffffff" font-weight="normal" text-anchor="start" textLength="17.0" lengthAdjust="spacingAndGlyphs" stroke="#ffffff" stroke-width="0.35">MA</text><text x="1205.1" y="415.9" font-size="12.3" fill="#ffffff" font-weight="normal" text-anchor="start" textLength="57.0" lengthAdjust="spacingAndGlyphs" stroke="#ffffff" stroke-width="0.35">Cross:Long</text><text x="1265.6" y="415.9" font-size="12.3" fill="#ffffff" font-weight="normal" text-anchor="start" textLength="17.2" lengthAdjust="spacingAndGlyphs" stroke="#ffffff" stroke-width="0.35">MA</text><rect x="1286.5" y="403.2" width="62.5" height="16.8" rx="2" fill="#f23645"/><text x="1295.0" y="415.9" font-size="12.3" fill="#ffffff" font-weight="normal" text-anchor="start" textLength="48.6" lengthAdjust="spacingAndGlyphs" stroke="#ffffff" stroke-width="0.35">0.020705</text><rect x="1207.0" y="595.0" width="79.5" height="16.8" rx="2" fill="#fdd835"/><text x="1211.1" y="607.7" font-size="12.3" fill="#131722" font-weight="normal" text-anchor="start" textLength="51.0" lengthAdjust="spacingAndGlyphs" stroke="#131722" stroke-width="0.2">RSI-based</text><text x="1265.9" y="607.7" font-size="12.3" fill="#131722" font-weight="normal" text-anchor="start" textLength="16.9" lengthAdjust="spacingAndGlyphs" stroke="#131722" stroke-width="0.2">MA</text><rect x="1286.5" y="595.0" width="43.5" height="16.8" rx="2" fill="#fdd835"/><text x="1295.0" y="607.7" font-size="12.3" fill="#131722" font-weight="normal" text-anchor="start" textLength="29.5" lengthAdjust="spacingAndGlyphs">76.16</text><rect x="1261.0" y="630.0" width="25.5" height="16.9" rx="2" fill="#7e57c2"/><text x="1265.6" y="642.7" font-size="12.3" fill="#ffffff" font-weight="normal" text-anchor="start" textLength="16.9" lengthAdjust="spacingAndGlyphs" stroke="#ffffff" stroke-width="0.35">RSI</text><rect x="1286.5" y="630.0" width="43.5" height="16.9" rx="2" fill="#7e57c2"/><text x="1295.0" y="642.7" font-size="12.3" fill="#ffffff" font-weight="normal" text-anchor="start" textLength="29.5" lengthAdjust="spacingAndGlyphs" stroke="#ffffff" stroke-width="0.35">62.14</text><line x1="1286.5" y1="280.2" x2="1286.5" y2="297" stroke="#ffffff" stroke-opacity="0.45" stroke-width="1"/><line x1="1286.5" y1="325.1" x2="1286.5" y2="341.9" stroke="#ffffff" stroke-opacity="0.45" stroke-width="1"/><line x1="1286.5" y1="403.2" x2="1286.5" y2="420" stroke="#ffffff" stroke-opacity="0.45" stroke-width="1"/><line x1="1286.5" y1="595" x2="1286.5" y2="611.8" stroke="#ffffff" stroke-opacity="0.45" stroke-width="1"/><line x1="1286.5" y1="630" x2="1286.5" y2="646.9" stroke="#ffffff" stroke-opacity="0.45" stroke-width="1"/><rect x="1290.5" y="31" width="71" height="26" rx="4" fill="#ffffff" stroke="#ececee" stroke-width="1.2"/><text x="1299.2" y="49.2" font-size="12.6" fill="#131722" font-weight="normal" text-anchor="start" textLength="27.8" lengthAdjust="spacingAndGlyphs">USDT</text><text x="345.5" y="763.2" font-size="11.8" fill="#131722" font-weight="normal" text-anchor="middle" textLength="19.3" lengthAdjust="spacingAndGlyphs">Feb</text><text x="472.5" y="763.2" font-size="11.8" fill="#131722" font-weight="normal" text-anchor="middle" textLength="19.8" lengthAdjust="spacingAndGlyphs">Mar</text><text x="612.5" y="763.2" font-size="11.8" fill="#131722" font-weight="normal" text-anchor="middle" textLength="18.8" lengthAdjust="spacingAndGlyphs">Apr</text><text x="747.5" y="763.2" font-size="11.8" fill="#131722" font-weight="normal" text-anchor="middle" textLength="21.3" lengthAdjust="spacingAndGlyphs">May</text><text x="887.5" y="763.2" font-size="11.8" fill="#131722" font-weight="normal" text-anchor="middle" textLength="19.3" lengthAdjust="spacingAndGlyphs">Jun</text><text x="1022.5" y="763.2" font-size="11.8" fill="#131722" font-weight="normal" text-anchor="middle" textLength="16.0" lengthAdjust="spacingAndGlyphs">Jul</text><text x="1162.5" y="763.2" font-size="11.8" fill="#131722" font-weight="normal" text-anchor="middle" textLength="20.0" lengthAdjust="spacingAndGlyphs">Aug</text><text x="205.5" y="763.2" font-size="11.8" fill="#131722" font-weight="bold" text-anchor="middle" textLength="27.0" lengthAdjust="spacingAndGlyphs">2025</text><text x="9.7" y="19.0" font-size="12.8" fill="#131722" font-weight="normal" text-anchor="start" textLength="60.6" lengthAdjust="spacingAndGlyphs" stroke="#131722" stroke-width="0.2">ranadagger</text><text x="73.6" y="19.0" font-size="12.8" fill="#131722" font-weight="normal" text-anchor="start" textLength="41.3" lengthAdjust="spacingAndGlyphs" stroke="#131722" stroke-width="0.2">created</text><text x="118.7" y="19.0" font-size="12.8" fill="#131722" font-weight="normal" text-anchor="start" textLength="23.5" lengthAdjust="spacingAndGlyphs" stroke="#131722" stroke-width="0.2">with</text><text x="146.3" y="19.0" font-size="12.8" fill="#131722" font-weight="normal" text-anchor="start" textLength="93.6" lengthAdjust="spacingAndGlyphs" stroke="#131722" stroke-width="0.2">TradingView.com,</text><text x="244.6" y="19.0" font-size="12.8" fill="#131722" font-weight="normal" text-anchor="start" textLength="15.4" lengthAdjust="spacingAndGlyphs" stroke="#131722" stroke-width="0.2">Jul</text><text x="263.6" y="19.0" font-size="12.8" fill="#131722" font-weight="normal" text-anchor="start" textLength="16.7" lengthAdjust="spacingAndGlyphs" stroke="#131722" stroke-width="0.2">29,</text><text x="284.5" y="19.0" font-size="12.8" fill="#131722" font-weight="normal" text-anchor="start" textLength="24.8" lengthAdjust="spacingAndGlyphs" stroke="#131722" stroke-width="0.2">2025</text><text x="313.7" y="19.0" font-size="12.8" fill="#131722" font-weight="normal" text-anchor="start" textLength="28.7" lengthAdjust="spacingAndGlyphs" stroke="#131722" stroke-width="0.2">15:23</text><text x="346.3" y="19.0" font-size="12.8" fill="#131722" font-weight="normal" text-anchor="start" textLength="22.3" lengthAdjust="spacingAndGlyphs" stroke="#131722" stroke-width="0.2">UTC</text><text x="18.0" y="45.9" font-size="12" fill="#131722" font-weight="normal" text-anchor="start" textLength="36.5" lengthAdjust="spacingAndGlyphs" stroke="#131722" stroke-width="0.2">PENGU</text><text x="61.6" y="45.9" font-size="12" fill="#131722" font-weight="normal" text-anchor="middle" stroke="#131722" stroke-width="0.2">/</text><text x="68.5" y="45.9" font-size="12" fill="#131722" font-weight="normal" text-anchor="start" textLength="47.6" lengthAdjust="spacingAndGlyphs" stroke="#131722" stroke-width="0.2">TetherUS</text><text x="122.6" y="45.9" font-size="12" fill="#131722" font-weight="bold" text-anchor="middle" stroke="#131722" stroke-width="0.2">·</text><text x="128.7" y="45.9" font-size="12" fill="#131722" font-weight="normal" text-anchor="start" textLength="12.8" lengthAdjust="spacingAndGlyphs" stroke="#131722" stroke-width="0.2">1D</text><text x="147.9" y="45.9" font-size="12" fill="#131722" font-weight="bold" text-anchor="middle" stroke="#131722" stroke-width="0.2">·</text><text x="153.7" y="45.9" font-size="12" fill="#131722" font-weight="normal" text-anchor="start" textLength="45.4" lengthAdjust="spacingAndGlyphs" stroke="#131722" stroke-width="0.2">BINANCE</text><text x="205.9" y="45.9" font-size="12" fill="#131722" font-weight="normal" text-anchor="start" textLength="8.2" lengthAdjust="spacingAndGlyphs" stroke="#131722" stroke-width="0.2">O</text><text x="270.5" y="45.9" font-size="12" fill="#131722" font-weight="normal" text-anchor="start" textLength="7.9" lengthAdjust="spacingAndGlyphs" stroke="#131722" stroke-width="0.2">H</text><text x="334.1" y="45.9" font-size="12" fill="#131722" font-weight="normal" text-anchor="start" textLength="5.7" lengthAdjust="spacingAndGlyphs" stroke="#131722" stroke-width="0.2">L</text><text x="395.4" y="45.9" font-size="12" fill="#131722" font-weight="normal" text-anchor="start" textLength="7.4" lengthAdjust="spacingAndGlyphs" stroke="#131722" stroke-width="0.2">C</text><text x="214.1" y="45.9" font-size="12" fill="#ef5350" font-weight="normal" text-anchor="start" textLength="49.1" lengthAdjust="spacingAndGlyphs" stroke="#ef5350" stroke-width="0.15">0.040440</text><text x="278.4" y="45.9" font-size="12" fill="#ef5350" font-weight="normal" text-anchor="start" textLength="48.3" lengthAdjust="spacingAndGlyphs" stroke="#ef5350" stroke-width="0.15">0.041653</text><text x="339.8" y="45.9" font-size="12" fill="#ef5350" font-weight="normal" text-anchor="start" textLength="49.1" lengthAdjust="spacingAndGlyphs" stroke="#ef5350" stroke-width="0.15">0.037354</text><text x="402.7" y="45.9" font-size="12" fill="#ef5350" font-weight="normal" text-anchor="start" textLength="49.0" lengthAdjust="spacingAndGlyphs" stroke="#ef5350" stroke-width="0.15">0.037660</text><text x="458.7" y="45.9" font-size="12" fill="#ef5350" font-weight="normal" text-anchor="start" textLength="56.1" lengthAdjust="spacingAndGlyphs" stroke="#ef5350" stroke-width="0.15">−0.002777</text><text x="518.3" y="45.9" font-size="12" fill="#ef5350" font-weight="normal" text-anchor="start" textLength="43.9" lengthAdjust="spacingAndGlyphs" stroke="#ef5350" stroke-width="0.15">(−6.87%)</text><text x="17.5" y="63.3" font-size="12" fill="#131722" font-weight="normal" text-anchor="start" textLength="16.6" lengthAdjust="spacingAndGlyphs" stroke="#131722" stroke-width="0.2">MA</text><text x="37.6" y="63.3" font-size="12" fill="#131722" font-weight="normal" text-anchor="start" textLength="27.5" lengthAdjust="spacingAndGlyphs" stroke="#131722" stroke-width="0.2">Cross</text><text x="69.6" y="63.3" font-size="12" fill="#131722" font-weight="normal" text-anchor="start" textLength="19.7" lengthAdjust="spacingAndGlyphs" stroke="#131722" stroke-width="0.2">(20,</text><text x="93.8" y="63.3" font-size="12" fill="#131722" font-weight="normal" text-anchor="start" textLength="16.9" lengthAdjust="spacingAndGlyphs" stroke="#131722" stroke-width="0.2">50)</text><text x="117.4" y="63.3" font-size="12" fill="#2962ff" font-weight="normal" text-anchor="start" textLength="49.4" lengthAdjust="spacingAndGlyphs" stroke="#2962ff" stroke-width="0.15">0.033784</text><text x="173.4" y="63.3" font-size="12" fill="#f23645" font-weight="normal" text-anchor="start" textLength="48.8" lengthAdjust="spacingAndGlyphs" stroke="#f23645" stroke-width="0.15">0.020705</text><text x="17.9" y="584.0" font-size="12" fill="#131722" font-weight="normal" text-anchor="start" textLength="16.0" lengthAdjust="spacingAndGlyphs" stroke="#131722" stroke-width="0.2">RSI</text><text x="37.9" y="584.0" font-size="12" fill="#131722" font-weight="normal" text-anchor="start" textLength="20.5" lengthAdjust="spacingAndGlyphs" stroke="#131722" stroke-width="0.2">(14,</text><text x="62.3" y="584.0" font-size="12" fill="#131722" font-weight="normal" text-anchor="start" textLength="32.0" lengthAdjust="spacingAndGlyphs" stroke="#131722" stroke-width="0.2">close)</text><text x="101.4" y="584.0" font-size="12" fill="#7e57c2" font-weight="normal" text-anchor="start" textLength="30.3" lengthAdjust="spacingAndGlyphs" stroke="#7e57c2" stroke-width="0.15">62.14</text><text x="138.5" y="584.0" font-size="12" fill="#fdd835" font-weight="normal" text-anchor="start" textLength="30.3" lengthAdjust="spacingAndGlyphs" stroke="#fdd835" stroke-width="0.15">76.16</text><g transform="translate(1149.4,551.4)"><circle r="9.7" fill="none" stroke="#9c27b0" stroke-width="1.5" stroke-dasharray="51.8 9.15" transform="rotate(-17)"/><path d="M2.2,-5.1 L-4.2,0.5 H-0.2 L-3.2,5.3 L4.4,-0.6 H0.3 Z" fill="#9c27b0" stroke="#9c27b0" stroke-width="0.5" stroke-linejoin="round"/><circle cx="7" cy="-6.8" r="2.6" fill="#f23645"/></g><g transform="translate(10,782.8) scale(0.5556)" fill="#131722"><path d="M14 22H7V11H0V4h14v18zM28 22h-8l7.5-18h8L28 22z"/><circle cx="20" cy="8" r="4"/></g><text x="32.8" y="795.0" font-size="13.2" fill="#131722" font-weight="normal" text-anchor="start" textLength="71.0" lengthAdjust="spacingAndGlyphs" stroke="#131722" stroke-width="0.2">TradingView</text></svg></body></html>
